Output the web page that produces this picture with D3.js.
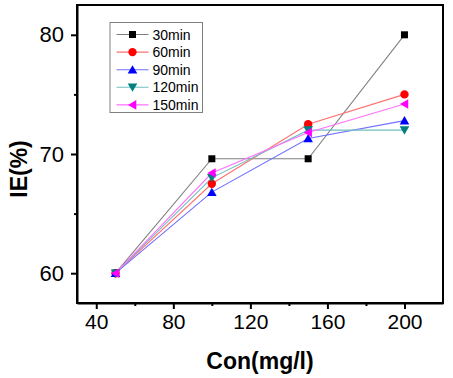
<!DOCTYPE html>
<html><head><meta charset="utf-8">
<script src="https://cdn.jsdelivr.net/npm/d3@7"></script>
<style>body{margin:0;background:#fff}svg{display:block;font-family:Arial,"Liberation Sans",sans-serif}</style>
</head><body><svg id="c" width="453" height="378"></svg>
<script>
const concentrations = [50, 100, 150, 200];
const series30 = [60, 69.6, 69.6, 80];
const series60 = [60, 67.5, 72.5, 75.0];
const series90 = [60, 66.8, 71.3, 72.8];
const series120 = [60, 68.0, 72.0, 72.0];
const series150 = [60, 68.4, 71.8, 74.2];
const seriesNames = ["30min", "60min", "90min", "120min", "150min"];
const xTicks = [40, 80, 120, 160, 200];
const yTicks = [60, 70, 80];

const seriesList = [
  {name: seriesNames[0], values: series30, line: "#808080", mark: "#000000", shape: "square"},
  {name: seriesNames[1], values: series60, line: "#ff7070", mark: "#ff0000", shape: "circle"},
  {name: seriesNames[2], values: series90, line: "#7070ff", mark: "#0000ff", shape: "up"},
  {name: seriesNames[3], values: series120, line: "#70c0c0", mark: "#008080", shape: "down"},
  {name: seriesNames[4], values: series150, line: "#ff70ff", mark: "#ff00ff", shape: "left"}
];

const svg = d3.select("#c");
const L = 77, R = 443, T = 5, B = 303;
const x = d3.scaleLinear().domain([30, 220]).range([L, R]);
const y = d3.scaleLinear().domain([57.5, 82.5]).range([B, T]);

// frame
svg.append("rect").attr("x", L).attr("y", T).attr("width", R - L).attr("height", B - T)
  .attr("fill", "#fff").attr("stroke", "#000").attr("stroke-width", 2);

// axes
const xAxis = d3.axisBottom(x).tickValues(xTicks).tickSize(6).tickPadding(5).tickSizeOuter(0);
const gx = svg.append("g").attr("transform", `translate(0,${B})`).call(xAxis);
gx.select(".domain").attr("stroke-width", 2);
gx.selectAll(".tick line").attr("stroke-width", 2);
gx.selectAll("text").attr("font-size", 21).attr("fill", "#000");
const xMinor = d3.axisBottom(x).tickValues([60, 100, 140, 180]).tickSize(3).tickFormat("").tickSizeOuter(0);
const gxm = svg.append("g").attr("transform", `translate(0,${B})`).call(xMinor);
gxm.select(".domain").remove();
gxm.selectAll(".tick line").attr("stroke-width", 2);

const yAxis = d3.axisLeft(y).tickValues(yTicks).tickSize(6).tickPadding(7).tickSizeOuter(0);
const gy = svg.append("g").attr("transform", `translate(${L},0)`).call(yAxis);
gy.select(".domain").attr("stroke-width", 2);
gy.selectAll(".tick line").attr("stroke-width", 2);
gy.selectAll("text").attr("font-size", 22).attr("fill", "#000");
const yMinor = d3.axisLeft(y).tickValues([65, 75]).tickSize(3).tickFormat("").tickSizeOuter(0);
const gym = svg.append("g").attr("transform", `translate(${L},0)`).call(yMinor);
gym.select(".domain").remove();
gym.selectAll(".tick line").attr("stroke-width", 2);

// titles
svg.append("text").attr("x", 260).attr("y", 369).attr("text-anchor", "middle")
  .attr("font-size", 23).attr("font-weight", "bold").text("Con(mg/l)");
svg.append("text").attr("transform", `translate(27,169) rotate(-90)`).attr("text-anchor", "middle")
  .attr("font-size", 23).attr("font-weight", "bold").text("IE(%)");

function marker(g, shape, color) {
  if (shape === "square") g.append("rect").attr("x", -3.5).attr("y", -3.5).attr("width", 7).attr("height", 7).attr("fill", color);
  else if (shape === "circle") g.append("circle").attr("r", 4.2).attr("fill", color);
  else if (shape === "up") g.append("path").attr("d", "M0,-4.5L4.8,3.8L-4.8,3.8Z").attr("fill", color);
  else if (shape === "down") g.append("path").attr("d", "M0,4.5L4.8,-3.8L-4.8,-3.8Z").attr("fill", color);
  else if (shape === "left") g.append("path").attr("d", "M-4.5,0L3.8,-4.8L3.8,4.8Z").attr("fill", color);
}

const line = d3.line().x((d, i) => x(concentrations[i])).y(d => y(d));
seriesList.forEach(s => {
  svg.append("path").attr("d", line(s.values)).attr("fill", "none").attr("stroke", s.line).attr("stroke-width", 1.1);
});
seriesList.forEach(s => {
  s.values.forEach((v, i) => {
    const g = svg.append("g").attr("transform", `translate(${x(concentrations[i])},${y(v)})`);
    marker(g, s.shape, s.mark);
  });
});

// legend
const lg = svg.append("g");
lg.append("rect").attr("x", 110).attr("y", 22.5).attr("width", 92.5).attr("height", 90)
  .attr("fill", "#fff").attr("stroke", "#808080").attr("stroke-width", 1);
seriesList.forEach((s, i) => {
  const yy = 34.5 + i * 17.6;
  lg.append("line").attr("x1", 116.5).attr("x2", 148.5).attr("y1", yy).attr("y2", yy).attr("stroke", s.line).attr("stroke-width", 1.1);
  marker(lg.append("g").attr("transform", `translate(132.5,${yy})`), s.shape, s.mark);
  lg.append("text").attr("x", 152.5).attr("y", yy + 5).attr("font-size", 14).attr("fill", "#000").text(s.name);
});
</script></body></html>
